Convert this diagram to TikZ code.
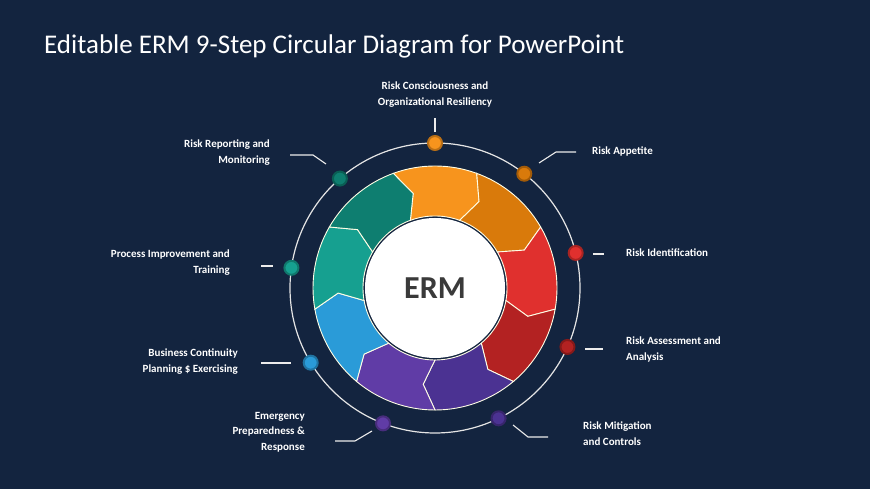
\documentclass[tikz,border=0pt]{standalone}
\usepackage{fontspec}
\setmainfont{Carlito}
\definecolor{bgnavy}{HTML}{13243F}
\definecolor{segA}{HTML}{F7941D}
\definecolor{segB}{HTML}{D97A0B}
\definecolor{segC}{HTML}{E0302E}
\definecolor{segD}{HTML}{B32222}
\definecolor{segE}{HTML}{4B3292}
\definecolor{segF}{HTML}{603CA6}
\definecolor{segG}{HTML}{2A9BD8}
\definecolor{segH}{HTML}{16A090}
\definecolor{segI}{HTML}{0E7E70}
\definecolor{ermgray}{HTML}{3A3A3A}
\tikzset{
  label text/.style={text=white, font=\bfseries\fontsize{11}{15.5}\selectfont, inner sep=0pt},
  leader/.style={draw=white!85!gray, line width=1.1pt},
  dot/.style={circle, minimum size=14pt, inner sep=0pt, line width=2pt},
}
\begin{document}
\begin{tikzpicture}[x=1pt,y=1pt]

\fill[bgnavy] (0,0) rectangle (870,489);
\useasboundingbox (0,0) rectangle (870,489);

\node[anchor=west, text=white, font=\fontsize{27}{30}\selectfont, inner sep=0pt] (title) at (44,443) {Editable ERM 9-Step Circular Diagram for PowerPoint};

\begin{scope}[shift={(435,201)}]
  \draw[white!80!gray, line width=1.2pt] (0,0) circle (145);
  % chevron segments
  \foreach \a/\c/\d in {90/segA/90,50/segB/52,10/segC/14,-30/segD/-24,-70/segE/-64,-110/segF/-111,-150/segG/-149,170/segH/172,130/segI/131}{
    \filldraw[fill=\c, draw=white!90!yellow, line width=0.9pt]
      (\a+20:122) arc[start angle=\a+20, end angle=\a-20, radius=122]
      -- (\a-27:97) -- (\a-20:72)
      arc[start angle=\a-20, end angle=\a+20, radius=72]
      -- (\a+13:97) -- cycle;
    \node[dot, fill=\c, draw=\c!75!black] (dot\c) at (\d:145) {};
  }
  \node[circle, fill=white, minimum size=140pt, inner sep=0pt, text=ermgray, font=\bfseries\fontsize{32}{32}\selectfont] (erm) at (0,0) {ERM};
\end{scope}

% leader lines
\draw[leader] (435,371) -- (435,357);
\draw[leader] (539,326) -- (556,337) -- (576,337);
\draw[leader] (593,235) -- (604,235);
\draw[leader] (585,140) -- (603,140);
\draw[leader] (513,64) -- (528,52) -- (548,52);
\draw[leader] (372,58) -- (355,48) -- (335,48);
\draw[leader] (261,126) -- (291,126);
\draw[leader] (261,223) -- (273,223);
\draw[leader] (326,325) -- (313,334) -- (290,334);

% labels
\node[label text, align=center, anchor=north] (lblA) at (435,407) {Risk Consciousness and\\Organizational Resiliency};
\node[label text, anchor=west] (lblB) at (592,337) {Risk Appetite};
\node[label text, anchor=west] (lblC) at (626,236) {Risk Identification};
\node[label text, align=left, anchor=north west] (lblD) at (626,152) {Risk Assessment and\\Analysis};
\node[label text, align=left, anchor=north west] (lblE) at (583,67) {Risk Mitigation\\and Controls};
\node[label text, align=right, anchor=north east] (lblF) at (305,77) {Emergency\\Preparedness \&\\Response};
\node[label text, align=right, anchor=north east] (lblG) at (238,140) {Business Continuity\\Planning \$ Exercising};
\node[label text, align=right, anchor=north east] (lblH) at (230,239) {Process Improvement and\\Training};
\node[label text, align=right, anchor=north east] (lblI) at (270,349) {Risk Reporting and\\Monitoring};

\end{tikzpicture}
\end{document}
